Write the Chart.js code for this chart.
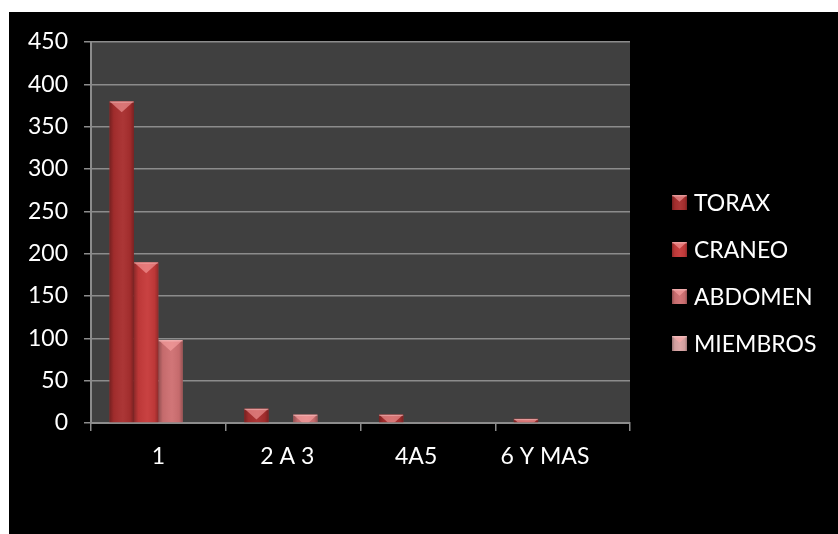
<!DOCTYPE html>
<html>
<head>
<meta charset="utf-8">
<title>Lesiones por región</title>
<script src="https://cdn.jsdelivr.net/npm/chart.js@4/dist/chart.umd.min.js"></script>
<style>
  html, body { margin: 0; padding: 0; background: #fff; }
  #marco { position: absolute; left: 9px; top: 12px; width: 829px; height: 522px; background: #000; }
</style>
</head>
<body>
<div id="marco"><canvas id="grafico" width="829" height="522"></canvas></div>
<script>
// Datos por número de lesiones
const categorias = ['1', '2 A 3  ', '4A5    ', '6 Y MAS      '];
const torax    = [380, 17, 10, 5];
const craneo   = [190, 0, 0, 0];
const abdomen  = [98, 10, 1, 0];
const miembros = [0, 0, 0, 0];
const ejeY = [0, 50, 100, 150, 200, 250, 300, 350, 400, 450];

const FUENTE = 'Lato, "Open Sans", sans-serif';
const TAM = 23;
const colores = ['#a82e2e', '#c63a3a', '#cf7072', '#dba6a6'];

// Fondo gris del área de trazado
const fondoArea = {
    id: 'fondoArea',
    beforeDraw(chart) {
        const { ctx, chartArea: a } = chart;
        ctx.save();
        ctx.fillStyle = '#404040';
        ctx.fillRect(a.left, a.top, a.right - a.left, a.bottom - a.top);
        ctx.restore();
    }
};

// Bisel superior + sombreado lateral de cada barra
function bisel(ctx, left, top, w, h) {
    ctx.save();
    ctx.beginPath();
    ctx.rect(left, top, w, h);
    ctx.clip();
    const g = ctx.createLinearGradient(left, 0, left + w, 0);
    g.addColorStop(0, 'rgba(0,0,0,0.30)');
    g.addColorStop(0.18, 'rgba(0,0,0,0.05)');
    g.addColorStop(0.55, 'rgba(255,255,255,0.04)');
    g.addColorStop(0.85, 'rgba(0,0,0,0.05)');
    g.addColorStop(1, 'rgba(0,0,0,0.28)');
    ctx.fillStyle = g;
    ctx.fillRect(left, top, w, h);
    const hb = w * 0.45;
    ctx.beginPath();
    ctx.moveTo(left, top);
    ctx.lineTo(left + w, top);
    ctx.lineTo(left + w / 2, top + hb);
    ctx.closePath();
    ctx.fillStyle = 'rgba(255,170,170,0.55)';
    ctx.fill();
    ctx.fillStyle = 'rgba(255,220,220,0.35)';
    ctx.fillRect(left, top, w, 1.5);
    ctx.restore();
}

const barras3d = {
    id: 'barras3d',
    afterDatasetsDraw(chart) {
        const ctx = chart.ctx;
        chart.data.datasets.forEach((ds, i) => {
            const meta = chart.getDatasetMeta(i);
            meta.data.forEach(el => {
                const p = el.getProps(['x', 'y', 'base', 'width'], true);
                const h = p.base - p.y;
                if (h < 0.5) return;
                bisel(ctx, p.x - p.width / 2, p.y, p.width, h);
            });
        });
    }
};

// Leyenda a la derecha
const leyenda = {
    id: 'leyenda',
    afterDraw(chart) {
        const { ctx, chartArea: a } = chart;
        const paso = 47;
        const n = chart.data.datasets.length;
        const y0 = chart.height / 2 - paso * (n - 1) / 2;
        const x0 = a.right + 42;
        ctx.save();
        ctx.font = TAM + 'px ' + FUENTE;
        ctx.textBaseline = 'middle';
        ctx.textAlign = 'left';
        chart.data.datasets.forEach((ds, i) => {
            const y = y0 + i * paso;
            ctx.fillStyle = ds.backgroundColor;
            ctx.fillRect(x0, y - 7.5, 15, 15);
            bisel(ctx, x0, y - 7.5, 15, 15);
            ctx.fillStyle = '#fff';
            ctx.fillText(ds.label, x0 + 22, y + 1);
        });
        ctx.restore();
    }
};

const series = [
    { label: 'TORAX', data: torax },
    { label: 'CRANEO', data: craneo },
    { label: 'ABDOMEN', data: abdomen },
    { label: 'MIEMBROS', data: miembros }
].map((s, i) => Object.assign(s, {
    backgroundColor: colores[i],
    borderWidth: 0,
    barPercentage: 1,
    categoryPercentage: 0.726
}));

new Chart(document.getElementById('grafico'), {
    type: 'bar',
    data: { labels: categorias, datasets: series },
    options: {
        responsive: false,
        animation: false,
        layout: { padding: { top: 30, right: 208, left: 0, bottom: 0 } },
        plugins: {
            legend: { display: false },
            tooltip: { enabled: false }
        },
        scales: {
            x: {
                grid: { drawOnChartArea: false, color: '#8c8c8c', lineWidth: 1.5, tickLength: 8, offset: true },
                border: { color: '#8c8c8c', width: 2 },
                ticks: { color: '#fff', font: { family: FUENTE, size: TAM }, padding: 12, maxRotation: 0, autoSkip: false },
                afterFit: s => { s.height = 111; }
            },
            y: {
                min: 0,
                max: 450,
                grid: { color: '#8c8c8c', lineWidth: 1.5, tickLength: 7 },
                border: { color: '#8c8c8c', width: 2 },
                afterBuildTicks: s => { s.ticks = ejeY.map(v => ({ value: v })); },
                ticks: { color: '#fff', font: { family: FUENTE, size: TAM }, padding: 16 },
                afterFit: s => { s.width = 82; }
            }
        }
    },
    plugins: [fondoArea, barras3d, leyenda]
});
</script>
</body>
</html>
